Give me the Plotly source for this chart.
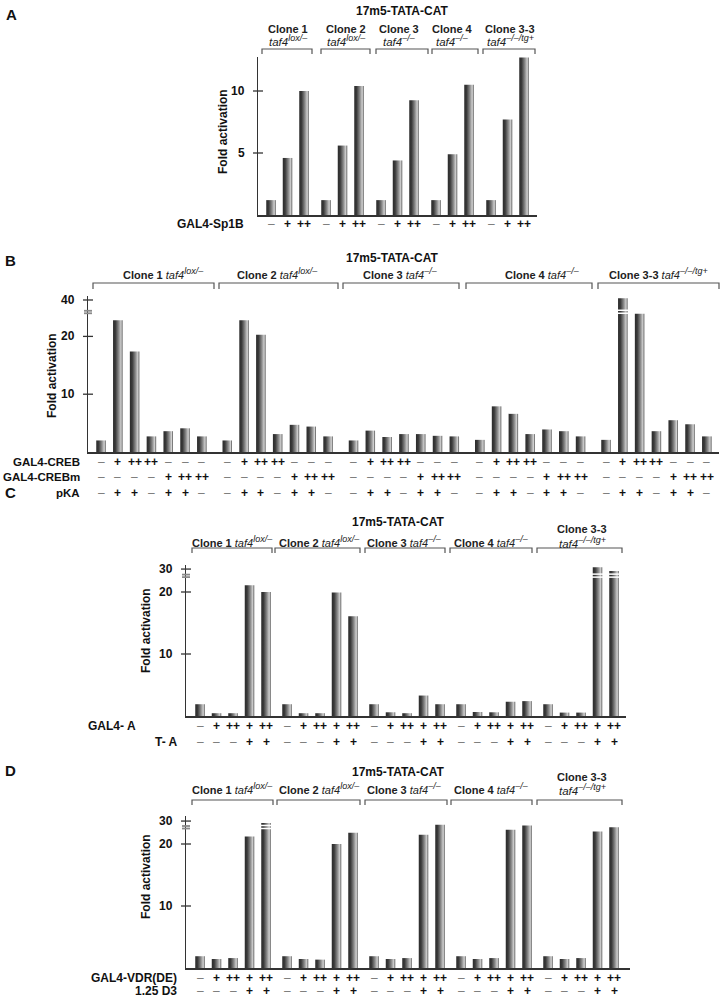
import plotly.graph_objects as go

W, H = 720, 1002
FONT = "Liberation Sans, Arial, Helvetica, sans-serif"

# ------------------------------------------------------------------ data
promoter = "17m5-TATA-CAT"
y_title = "Fold activation"
clones = ["Clone 1", "Clone 2", "Clone 3", "Clone 4", "Clone 3-3"]
gene = "taf4"
alleles = ["lox/–", "lox/–", "–/–", "–/–", "–/–/tg+"]

# Panel A
a_rows = ["GAL4-Sp1B"]
a_signs = [["–", "+", "++"]]
a_values = [[1.2, 4.6, 10.0],
            [1.2, 5.6, 10.4],
            [1.2, 4.4, 9.25],
            [1.2, 4.9, 10.5],
            [1.2, 7.7, 12.7]]
a_ticklabels = ["5", "10"]
a_broken = []

# Panel B (heights read on the lower, linear part of the broken axis)
b_rows = ["GAL4-CREB", "GAL4-CREBm", "pKA"]
b_signs = [["–", "+", "++", "++", "–", "–", "–"],
           ["–", "–", "–", "–", "+", "++", "++"],
           ["–", "+", "+", "–", "+", "+", "–"]]
b_values = [[2.0, 22.8, 17.4, 2.7, 3.6, 4.1, 2.7],
            [2.0, 22.8, 20.3, 3.1, 4.7, 4.4, 2.7],
            [2.0, 3.7, 2.6, 3.1, 3.1, 2.8, 2.7],
            [2.1, 7.9, 6.6, 3.1, 3.9, 3.6, 2.7],
            [2.1, 26.6, 23.9, 3.6, 5.5, 4.8, 2.7]]
b_ticklabels = ["10", "20", "40"]
b_broken = [(4, 1)]

# Panel C
c_rows = ["GAL4- A", "T- A"]
c_signs = [["–", "+", "++", "+", "++"],
           ["–", "–", "–", "+", "+"]]
c_values = [[1.9, 0.45, 0.45, 21.1, 20.0],
            [1.9, 0.45, 0.45, 19.9, 16.1],
            [1.9, 0.6, 0.45, 3.3, 1.9],
            [1.9, 0.65, 0.6, 2.3, 2.4],
            [1.9, 0.55, 0.55, 24.0, 23.4]]
c_ticklabels = ["10", "20", "30"]
c_broken = [(4, 3), (4, 4)]

# Panel D
d_rows = ["GAL4-VDR(DE)", "1.25 D3"]
d_signs = [["–", "+", "++", "+", "++"],
           ["–", "–", "–", "+", "+"]]
d_values = [[1.9, 1.45, 1.6, 21.2, 23.4],
            [1.9, 1.45, 1.35, 20.0, 21.8],
            [1.9, 1.45, 1.6, 21.5, 23.1],
            [1.9, 1.45, 1.6, 22.3, 23.0],
            [1.9, 1.45, 1.6, 22.0, 22.7]]
d_ticklabels = ["10", "20", "30"]
d_broken = [(0, 4)]

# ------------------------------------------------------------------ layout (pixels)
panels = [
    dict(letter="A", values=a_values, rows=a_rows, signs=a_signs, ticklabels=a_ticklabels,
         broken=a_broken, tickvals=[5, 10], brk=None,
         L=258, R=537, base=215, top=57, ppu=12.4, x0=271, u=16.5, gstep=55,
         title=(402, 11), letter_xy=(11, 15), two_line=[True] * 5,
         label_cx=[288, 346, 399, 452, 510], label_y=(29, 41),
         brackets=[[262, 312], [321, 370], [376, 428], [432, 478], [483, 535]],
         br_top=49, br_leg=54, rows_y=[224], row_right=[245], row_size=12,
         ytitle=(223, 132)),
    dict(letter="B", values=b_values, rows=b_rows, signs=b_signs, ticklabels=b_ticklabels,
         broken=b_broken, tickvals=[10, 20, 26.3], brk=24.0,
         L=88, R=719, base=452, top=296, ppu=5.78, x0=101, u=16.8, gstep=126.25,
         title=(392, 258), letter_xy=(10, 260), two_line=[False] * 5,
         label_cx=[163, 277, 400, 542, 658], label_y=(273, 273),
         brackets=[[93, 214], [219, 338], [343, 459], [466, 592], [598, 719]],
         br_top=283, br_leg=289, rows_y=[462, 477, 493], row_right=[81, 81, 81],
         row_size=11.5, ytitle=(52, 375)),
    dict(letter="C", values=c_values, rows=c_rows, signs=c_signs, ticklabels=c_ticklabels,
         broken=c_broken, tickvals=[10, 20, 23.7], brk=22.4,
         L=186, R=626, base=716, top=565, ppu=6.2, x0=200, u=16.5, gstep=87,
         title=(398, 522), letter_xy=(10, 492), two_line=[False] * 4 + [True],
         label_cx=[232, 319, 404, 491, 582], label_y=(541, 541), tl_y=(529, 542),
         brackets=[[192, 272], [275, 360], [365, 445], [450, 532], [537, 622]],
         br_top=548, br_leg=553, rows_y=[726, 742], row_right=[137, 179], row_size=12,
         ytitle=(146, 631)),
    dict(letter="D", values=d_values, rows=d_rows, signs=d_signs, ticklabels=d_ticklabels,
         broken=d_broken, tickvals=[10, 20, 23.7], brk=22.5,
         L=186, R=630, base=968, top=816, ppu=6.2, x0=200, u=16.5, gstep=87,
         title=(398, 772), letter_xy=(10, 770), two_line=[False] * 4 + [True],
         label_cx=[232, 319, 404, 491, 582], label_y=(788, 788), tl_y=(777, 789),
         brackets=[[192, 273], [277, 360], [365, 447], [451, 532], [537, 622]],
         br_top=800, br_leg=805, rows_y=[978, 991], row_right=[178, 178], row_size=12,
         ytitle=(146, 877)),
]

GRAD = [[0.0, "#2b2b2b"], [0.25, "#3a3a3a"], [0.6, "#8c8c8c"],
        [0.85, "#d2d2d2"], [1.0, "#4a4a4a"]]
AX = "#333333"
BR = "#555555"
BAR_PX = 9.5


def pxx(x):
    return x / W


def pxy(y):
    return 1 - y / H


def genotype(g):
    return ('<i>%s<sup><span style="font-size:9px">%s</span></sup></i>'
            % (gene, alleles[g]))


fig = go.Figure()
annotations = []
shapes = []
layout = {}

for k, p in enumerate(panels):
    s = "" if k == 0 else str(k + 1)
    xa, ya = "x" + s, "y" + s
    u = p["u"]
    gstep = p["gstep"] / u
    hw = BAR_PX / u / 2
    ymax = (p["base"] - p["top"]) / p["ppu"]

    layout["xaxis" + s] = dict(domain=[pxx(p["L"]), pxx(p["R"])],
                               range=[(p["L"] - p["x0"]) / u, (p["R"] - p["x0"]) / u],
                               showline=True, linecolor=AX, linewidth=1.5, ticks="",
                               showticklabels=False, showgrid=False, zeroline=False,
                               anchor=ya, fixedrange=True)
    layout["yaxis" + s] = dict(domain=[pxy(p["base"]), pxy(p["top"])], range=[0, ymax],
                               showline=True, linecolor=AX, linewidth=1.5, ticks="",
                               showticklabels=False, showgrid=False, zeroline=False,
                               anchor=xa, fixedrange=True)

    # bars
    for g, grp in enumerate(p["values"]):
        for j, v in enumerate(grp):
            c = g * gstep + j
            fig.add_trace(go.Scatter(
                x=[c - hw, c + hw, c + hw, c - hw, c - hw], y=[0, 0, v, v, 0],
                fill="toself", fillgradient=dict(type="horizontal", colorscale=GRAD),
                mode="lines", line=dict(width=0, color="rgba(0,0,0,0)"),
                xaxis=xa, yaxis=ya, hoverinfo="skip", showlegend=False))
            if (g, j) in p["broken"]:
                for dy in (0, 3 / p["ppu"]):
                    shapes.append(dict(type="line", xref=xa, yref=ya,
                                       x0=c - hw - 0.05, x1=c + hw + 0.05,
                                       y0=p["brk"] + dy, y1=p["brk"] + dy,
                                       line=dict(color="white", width=1.5)))
            # sign rows
            for r, ry in enumerate(p["rows_y"]):
                sg = p["signs"][r][j]
                plus = "+" in sg
                annotations.append(dict(
                    x=c, y=pxy(ry), xref=xa, yref="paper",
                    text="<b>%s</b>" % sg if plus else sg, showarrow=False,
                    xanchor="center", yanchor="middle", borderpad=0,
                    font=dict(family=FONT, size=12,
                              color="#111111" if plus else "#777777")))

    # row labels
    for r, ry in enumerate(p["rows_y"]):
        annotations.append(dict(x=pxx(p["row_right"][r]), y=pxy(ry), xref="paper",
                                yref="paper", text="<b>%s</b>" % p["rows"][r],
                                showarrow=False, xanchor="right", yanchor="middle",
                                borderpad=0,
                                font=dict(family=FONT, size=p["row_size"],
                                          color="#111111")))

    # y ticks and tick labels
    for tv, tl in zip(p["tickvals"], p["ticklabels"]):
        shapes.append(dict(type="line", xref="paper", yref=ya,
                           x0=pxx(p["L"] - 5), x1=pxx(p["L"] + 5), y0=tv, y1=tv,
                           line=dict(color=AX, width=1.3)))
        annotations.append(dict(x=pxx(p["L"] - 11), y=tv, xref="paper", yref=ya,
                                text="<b>%s</b>" % tl, showarrow=False, xanchor="right",
                                yanchor="middle",
                                font=dict(family=FONT, size=12, color="#111111")))
    # axis break marks
    if p["brk"] is not None:
        for dy in (0, 2.5 / p["ppu"]):
            shapes.append(dict(type="line", xref="paper", yref=ya,
                               x0=pxx(p["L"] - 4), x1=pxx(p["L"] + 4),
                               y0=p["brk"] + dy, y1=p["brk"] + dy,
                               line=dict(color="#8a8a8a", width=1.8)))

    # y-axis title
    annotations.append(dict(x=pxx(p["ytitle"][0]), y=pxy(p["ytitle"][1]), xref="paper",
                            yref="paper", text="<b>%s</b>" % y_title, textangle=-90,
                            showarrow=False, xanchor="center", yanchor="middle",
                            font=dict(family=FONT, size=12, color="#111111")))
    # panel letter and title
    annotations.append(dict(x=pxx(p["letter_xy"][0]), y=pxy(p["letter_xy"][1]),
                            xref="paper", yref="paper", text="<b>%s</b>" % p["letter"],
                            showarrow=False, xanchor="center", yanchor="middle",
                            font=dict(family=FONT, size=15, color="#111111")))
    annotations.append(dict(x=pxx(p["title"][0]), y=pxy(p["title"][1]), xref="paper",
                            yref="paper", text="<b>%s</b>" % promoter, showarrow=False,
                            xanchor="center", yanchor="middle",
                            font=dict(family=FONT, size=12, color="#111111")))
    # clone labels and brackets
    for g in range(5):
        cx = p["label_cx"][g]
        if p["two_line"][g]:
            y1, y2 = p.get("tl_y", p["label_y"])
            annotations.append(dict(x=pxx(cx), y=pxy(y1), xref="paper", yref="paper",
                                    text="<b>%s</b>" % clones[g], showarrow=False,
                                    xanchor="center", yanchor="middle",
                                    font=dict(family=FONT, size=11, color="#222222")))
            annotations.append(dict(x=pxx(cx), y=pxy(y2), xref="paper", yref="paper",
                                    text=genotype(g), showarrow=False,
                                    xanchor="center", yanchor="middle",
                                    font=dict(family=FONT, size=11.5, color="#222222")))
        else:
            annotations.append(dict(x=pxx(cx), y=pxy(p["label_y"][0]), xref="paper",
                                    yref="paper",
                                    text="<b>%s</b> %s" % (clones[g], genotype(g)),
                                    showarrow=False, xanchor="center", yanchor="middle",
                                    font=dict(family=FONT, size=11, color="#222222")))
        bx0, bx1 = p["brackets"][g]
        shapes.append(dict(type="path", xref="paper", yref="paper",
                           path="M %f,%f L %f,%f L %f,%f L %f,%f" % (
                               pxx(bx0), pxy(p["br_leg"]), pxx(bx0), pxy(p["br_top"]),
                               pxx(bx1), pxy(p["br_top"]), pxx(bx1), pxy(p["br_leg"])),
                           line=dict(color=BR, width=1.2)))

fig.update_layout(width=W, height=H, margin=dict(l=0, r=0, t=0, b=0),
                  paper_bgcolor="white", plot_bgcolor="white", showlegend=False,
                  annotations=annotations, shapes=shapes, **layout)

fig.write_html("out.html", config={"displayModeBar": False, "staticPlot": True},
               post_script="document.body.style.margin='0';"
                           "document.body.style.padding='0';"
                           "document.body.style.overflow='hidden';")
